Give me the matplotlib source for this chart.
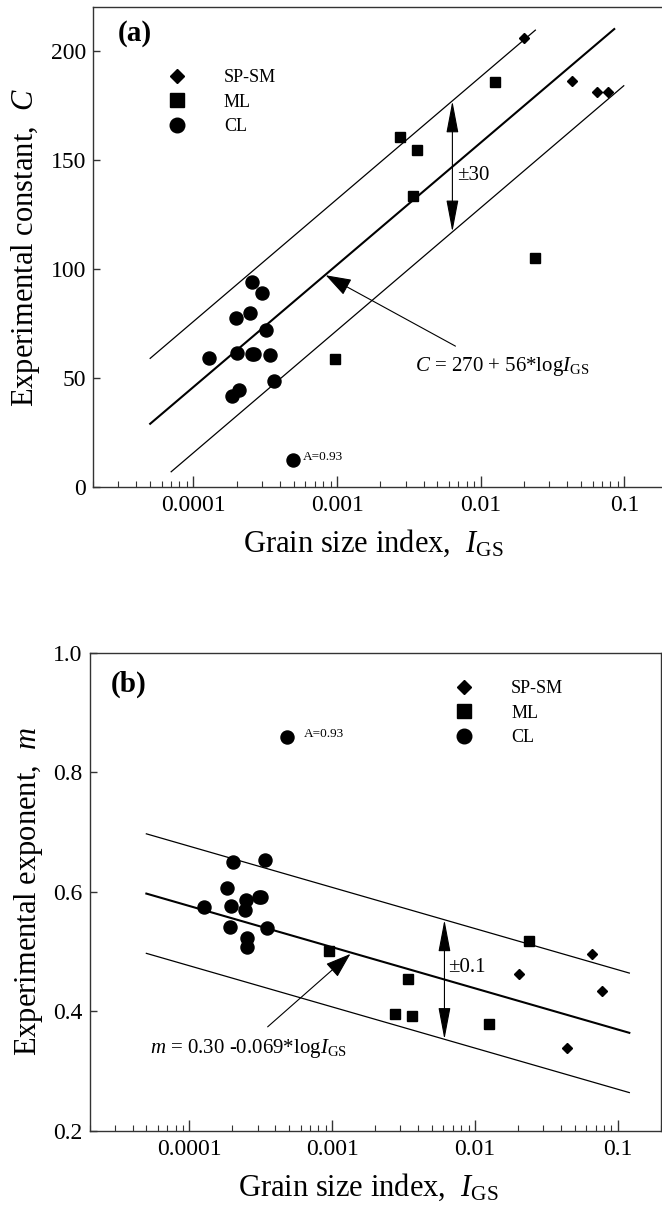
import numpy as np
import matplotlib
matplotlib.use('Agg')
import matplotlib.pyplot as plt
from matplotlib.lines import Line2D
from matplotlib.ticker import FixedLocator, LogLocator, NullFormatter

plt.rcParams['font.family'] = ['Liberation Serif', 'DejaVu Serif']
plt.rcParams['mathtext.fontset'] = 'custom'
plt.rcParams['mathtext.rm'] = 'Liberation Serif'
plt.rcParams['mathtext.it'] = 'Liberation Serif:italic'
plt.rcParams['mathtext.bf'] = 'Liberation Serif:bold'

# ---------------- data ----------------
series_labels = ['SP-SM', 'ML', 'CL']
x_ticks = [0.0001, 0.001, 0.01, 0.1]
x_ticklabels = ['0.0001', '0.001', '0.01', '0.1']

# panel (a): experimental constant C
a_sp_x = [0.0201, 0.0435, 0.064, 0.0767]
a_sp_y = [206, 186, 181, 181]
a_ml_x = [0.01267, 0.00276, 0.00362, 0.0034, 0.0238, 0.00096]
a_ml_y = [185.7, 160.6, 154.6, 133.6, 104.8, 58.7]
a_cl_x = [0.000256, 0.000301, 0.000199, 0.000249, 0.000318, 0.000129, 0.0002,
          0.000255, 0.000263, 0.000343, 0.000361, 0.000207, 0.000185]
a_cl_y = [93.9, 88.9, 77.6, 79.7, 71.8, 59.2, 61.5, 61.2, 60.8, 60.6, 48.4, 44.6, 41.8]
a_out_x = [0.000492]
a_out_y = [12.6]
a_yticks = [0, 50, 100, 150, 200]
a_fit_x = [5e-5, 0.085]
a_fit_y = [29, 210]
a_up_x = [5e-5, 0.024]
a_up_y = [59, 209.5]
a_lo_x = [7e-5, 0.099]
a_lo_y = [7, 184]

# panel (b): experimental exponent m
b_sp_x = [0.0204, 0.0655, 0.077, 0.044]
b_sp_y = [0.463, 0.496, 0.434, 0.339]
b_ml_x = [0.0239, 0.000955, 0.00337, 0.00273, 0.00361, 0.0125]
b_ml_y = [0.517, 0.501, 0.454, 0.396, 0.392, 0.378]
b_cl_x = [0.000201, 0.000337, 0.000183, 0.000126, 0.000197, 0.000249, 0.000244,
          0.000305, 0.000318, 0.000191, 0.000351, 0.000255, 0.000253]
b_cl_y = [0.650, 0.654, 0.606, 0.574, 0.576, 0.586, 0.569, 0.592, 0.592,
          0.541, 0.540, 0.523, 0.508]
b_out_x = [0.000483]
b_out_y = [0.859]
b_yticks = [0.2, 0.4, 0.6, 0.8, 1.0]
b_fit_x = [5e-5, 0.12]
b_fit_y = [0.597, 0.364]
b_up_x = [5e-5, 0.12]
b_up_y = [0.697, 0.464]
b_lo_x = [5e-5, 0.12]
b_lo_y = [0.497, 0.264]

# ---------------- figure ----------------
fig = plt.figure(figsize=(6.62, 12.07), dpi=100)
ax1 = fig.add_axes([0.1405, 0.5965, 0.868, 0.3975])
ax2 = fig.add_axes([0.1352, 0.0631, 0.8633, 0.3961])

SPINE = '#333333'


def style(ax, ylim, yticks, yfmt):
    ax.set_xscale('log')
    ax.set_xlim(2e-5, 0.2)
    ax.set_ylim(*ylim)
    ax.xaxis.set_major_locator(FixedLocator(x_ticks))
    ax.set_xticklabels(x_ticklabels)
    ax.xaxis.set_minor_locator(LogLocator(base=10, subs=np.arange(2, 10)))
    ax.xaxis.set_minor_formatter(NullFormatter())
    ax.set_yticks(yticks)
    ax.set_yticklabels([yfmt.format(v) for v in yticks])
    ax.tick_params(which='both', direction='in', top=False, right=False,
                   labelsize=17, color=SPINE)
    ax.tick_params(axis='x', which='major', length=8, width=1, pad=6)
    ax.tick_params(axis='x', which='minor', length=4, width=0.8)
    ax.tick_params(axis='y', which='major', length=5, width=1, pad=5)
    for s in ax.spines.values():
        s.set_linewidth(1.0)
        s.set_color(SPINE)
    ax.set_xlabel(r'Grain size index,  $I_{\mathrm{GS}}$', fontsize=22, labelpad=4)
    ax.xaxis.set_label_coords(0.488, -0.085)


def draw(ax, sp, ml, cl, out, fit, up, lo, note_dx):
    ax.plot(fit[0], fit[1], color='black', lw=1.5, zorder=2)
    ax.plot(up[0], up[1], color='black', lw=0.9, zorder=2)
    ax.plot(lo[0], lo[1], color='black', lw=0.9, zorder=2)
    ax.plot(sp[0], sp[1], ls='none', marker='D', ms=5.3, color='black', zorder=3)
    ax.plot(ml[0], ml[1], ls='none', marker='s', ms=7.2, color='black', zorder=3)
    ax.plot(cl[0], cl[1], ls='none', marker='o', ms=9.4, color='black', zorder=3)
    ax.plot(out[0], out[1], ls='none', marker='o', ms=9.4, color='black', zorder=3)
    ax.annotate('A=0.93', xy=(out[0][0], out[1][0]), xytext=(note_dx, 2),
                textcoords='offset points', fontsize=9.5, va='center', ha='left')


def legend(ax, anchor):
    handles = [Line2D([], [], ls='none', marker='D', ms=7.2, color='black'),
               Line2D([], [], ls='none', marker='s', ms=10, color='black'),
               Line2D([], [], ls='none', marker='o', ms=10.5, color='black')]
    ax.legend(handles, series_labels, loc='upper left', bbox_to_anchor=anchor,
              frameon=False, fontsize=13, handlelength=1.0, handletextpad=2.1,
              labelspacing=0.42, borderpad=0, borderaxespad=0)


# panel (a)
style(ax1, (0, 220), a_yticks, '{:g}')
draw(ax1, (a_sp_x, a_sp_y), (a_ml_x, a_ml_y), (a_cl_x, a_cl_y), (a_out_x, a_out_y),
     (a_fit_x, a_fit_y), (a_up_x, a_up_y), (a_lo_x, a_lo_y), 7.5)
ax1.set_ylabel(r'Experimental constant,  $C$', fontsize=22, labelpad=6)
ax1.text(0.0435, 0.93, '(a)', transform=ax1.transAxes, fontsize=21,
         fontweight='bold', ha='left', va='baseline')
legend(ax1, (0.1305, 0.871))
ax1.annotate('', xy=(0.00635, 117), xytext=(0.00635, 177),
             arrowprops=dict(arrowstyle='<|-|>,head_length=2.0,head_width=0.38',
                             color='black', lw=0.8, shrinkA=0, shrinkB=0,
                             mutation_scale=10))
ax1.text(0.0068, 143, '±30', fontsize=15, ha='left', va='center')
ax1.annotate('', xy=(0.000834, 97.1), xytext=(0.00667, 64.6),
             arrowprops=dict(arrowstyle='-|>,head_length=1.6,head_width=0.55',
                             color='black', lw=0.8, shrinkA=0, shrinkB=0,
                             mutation_scale=10))
ax1.text(0.0035, 55.3, r'$C$ = 270 + 56*log$I_{\mathrm{GS}}$', fontsize=15,
         ha='left', va='center')

# panel (b)
style(ax2, (0.2, 1.0), b_yticks, '{:.1f}')
draw(ax2, (b_sp_x, b_sp_y), (b_ml_x, b_ml_y), (b_cl_x, b_cl_y), (b_out_x, b_out_y),
     (b_fit_x, b_fit_y), (b_up_x, b_up_y), (b_lo_x, b_lo_y), 12)
ax2.set_ylabel(r'Experimental exponent,  $m$', fontsize=22, labelpad=6)
ax2.text(0.037, 0.918, '(b)', transform=ax2.transAxes, fontsize=21,
         fontweight='bold', ha='left', va='baseline')
legend(ax2, (0.640, 0.943))
ax2.annotate('', xy=(0.0061, 0.353), xytext=(0.0061, 0.553),
             arrowprops=dict(arrowstyle='<|-|>,head_length=2.0,head_width=0.38',
                             color='black', lw=0.8, shrinkA=0, shrinkB=0,
                             mutation_scale=10))
ax2.text(0.0065, 0.4735, '±0.1', fontsize=15, ha='left', va='center')
ax2.annotate('', xy=(0.00134, 0.496), xytext=(0.000353, 0.374),
             arrowprops=dict(arrowstyle='-|>,head_length=1.6,head_width=0.55',
                             color='black', lw=0.8, shrinkA=0, shrinkB=0,
                             mutation_scale=10))
ax2.text(5.27e-5, 0.337, r'$m$ = 0.30 -0.069*log$I_{\mathrm{GS}}$', fontsize=15,
         ha='left', va='center')

fig.savefig('out.png', dpi=100)
